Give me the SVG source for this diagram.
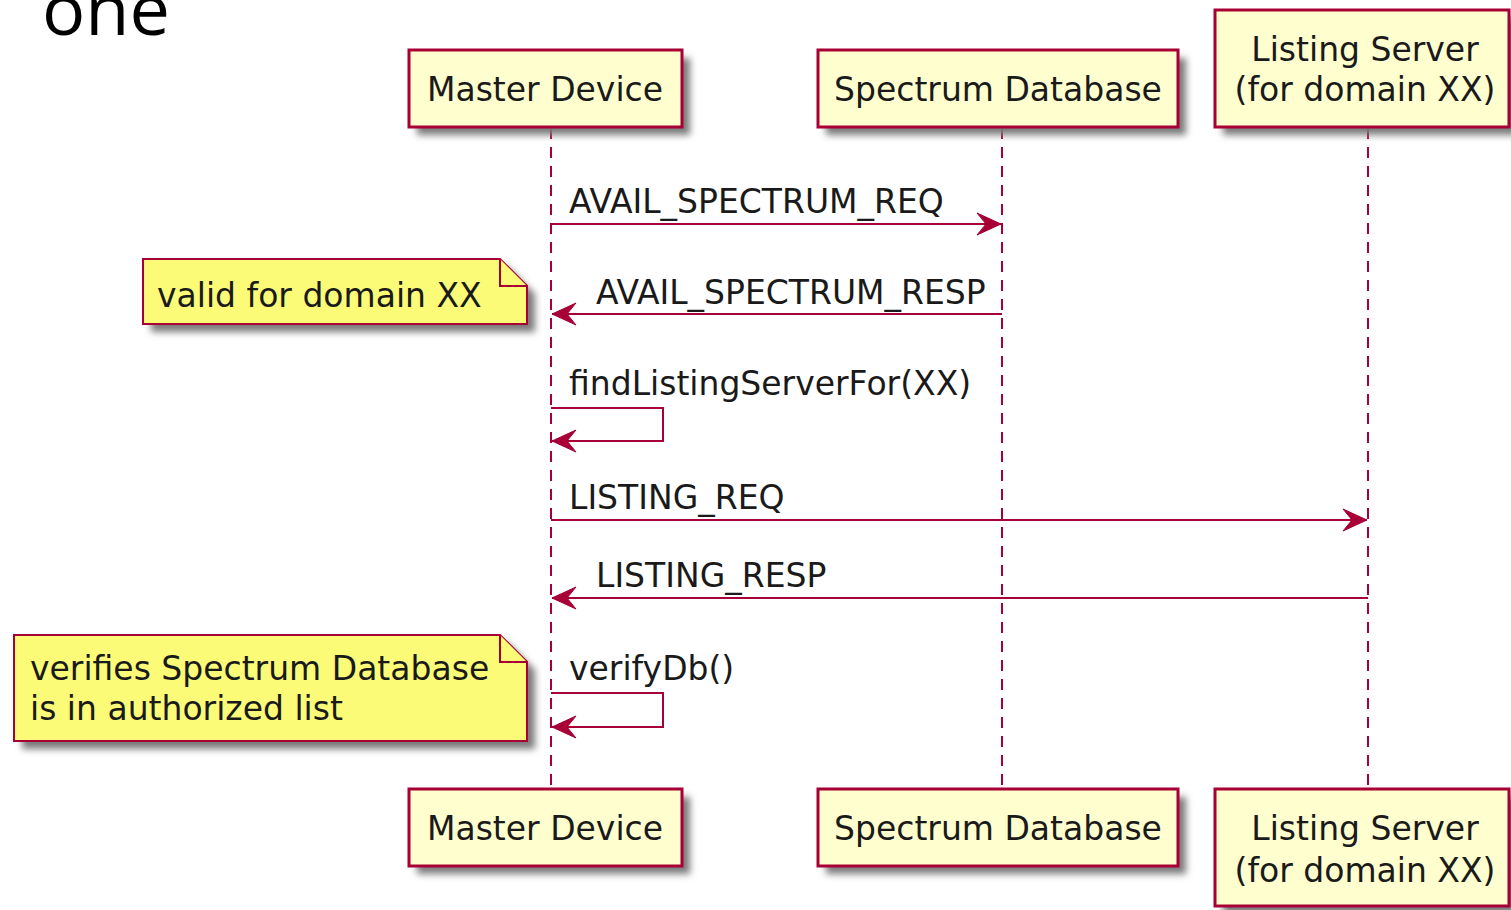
<svg xmlns="http://www.w3.org/2000/svg" width="1511" height="910" viewBox="0 0 1511 910">
<style>
.box{fill:#FEFECE;stroke:#A80036;stroke-width:3}
.note{fill:#FBFB77;stroke:#A80036;stroke-width:2}
.sh{fill:#7a7a7a;filter:url(#blur)}
.lbl{font-family:"DejaVu Sans",sans-serif;font-size:33px;fill:#1a1a1a}
.life{stroke:#A80036;stroke-width:2;stroke-dasharray:11,8;fill:none}
.msg{stroke:#A80036;stroke-width:2;fill:none}
.title{font-family:"Open Sans","DejaVu Sans",sans-serif;font-size:72px;fill:#000}
</style>
<defs>
<filter id="blur" x="-10%" y="-20%" width="120%" height="140%"><feGaussianBlur stdDeviation="3.5"/></filter>
<marker id="ah" markerUnits="userSpaceOnUse" markerWidth="30" markerHeight="30" viewBox="-26 -13 30 26" refX="0" refY="0" orient="auto">
<polygon points="0,0 -24,-11 -15,0 -24,11" fill="#A80036" stroke="#A80036" stroke-width="1"/>
</marker>
</defs>
<text class="title" x="42" y="35">one</text>
<g id="lifelines">
<line class="life" x1="551" y1="128" x2="551" y2="789"/>
<line class="life" x1="1002" y1="128" x2="1002" y2="789"/>
<line class="life" x1="1368" y1="128" x2="1368" y2="789"/>
</g>
<g id="p-master-top">
<rect class="sh" x="417" y="58" width="273" height="77"/>
<rect class="box" x="409" y="50" width="273" height="77"/>
<text class="lbl" x="545" y="101" text-anchor="middle">Master Device</text>
</g>
<g id="p-spectrum-top">
<rect class="sh" x="826" y="58" width="360" height="77"/>
<rect class="box" x="818" y="50" width="360" height="77"/>
<text class="lbl" x="998" y="101" text-anchor="middle">Spectrum Database</text>
</g>
<g id="p-listing-top">
<rect class="sh" x="1223" y="18" width="294" height="117"/>
<rect class="box" x="1215" y="10" width="294" height="117"/>
<text class="lbl" x="1365" y="61" text-anchor="middle">Listing Server</text>
<text class="lbl" x="1365" y="101" text-anchor="middle">(for domain XX)</text>
</g>
<g id="p-master-bottom">
<rect class="sh" x="417" y="797" width="273" height="77"/>
<rect class="box" x="409" y="789" width="273" height="77"/>
<text class="lbl" x="545" y="840" text-anchor="middle">Master Device</text>
</g>
<g id="p-spectrum-bottom">
<rect class="sh" x="826" y="797" width="360" height="77"/>
<rect class="box" x="818" y="789" width="360" height="77"/>
<text class="lbl" x="998" y="840" text-anchor="middle">Spectrum Database</text>
</g>
<g id="p-listing-bottom">
<rect class="sh" x="1223" y="797" width="294" height="117"/>
<rect class="box" x="1215" y="789" width="294" height="117"/>
<text class="lbl" x="1365" y="840" text-anchor="middle">Listing Server</text>
<text class="lbl" x="1365" y="882" text-anchor="middle">(for domain XX)</text>
</g>
<g id="note-valid">
<path class="sh" d="M151,267 H508 L535,294 V332 H151 Z"/>
<path class="note" d="M143,259 H500 L527,286 V324 H143 Z"/>
<path class="note" d="M500,259 V286 H527"/>
<text class="lbl" x="157" y="307">valid for domain XX</text>
</g>
<g id="note-verify">
<path class="sh" d="M22,643 H508 L535,670 V749 H22 Z"/>
<path class="note" d="M14,635 H500 L527,662 V741 H14 Z"/>
<path class="note" d="M500,635 V662 H527"/>
<text class="lbl" x="30" y="680">verifies Spectrum Database</text>
<text class="lbl" x="30" y="720">is in authorized list</text>
</g>
<g id="connectors">
<line class="msg" x1="551" y1="224" x2="1001" y2="224" marker-end="url(#ah)"/>
<text class="lbl" x="569" y="213">AVAIL_SPECTRUM_REQ</text>
<line class="msg" x1="1002" y1="314" x2="552" y2="314" marker-end="url(#ah)"/>
<text class="lbl" x="596" y="304">AVAIL_SPECTRUM_RESP</text>
<polyline class="msg" points="551,408 663,408 663,441 552,441" marker-end="url(#ah)"/>
<text class="lbl" x="569" y="395">findListingServerFor(XX)</text>
<line class="msg" x1="551" y1="520" x2="1367" y2="520" marker-end="url(#ah)"/>
<text class="lbl" x="569" y="509">LISTING_REQ</text>
<line class="msg" x1="1368" y1="598" x2="552" y2="598" marker-end="url(#ah)"/>
<text class="lbl" x="596" y="587">LISTING_RESP</text>
<polyline class="msg" points="551,693 663,693 663,727 552,727" marker-end="url(#ah)"/>
<text class="lbl" x="569" y="680">verifyDb()</text>
</g>
</svg>
